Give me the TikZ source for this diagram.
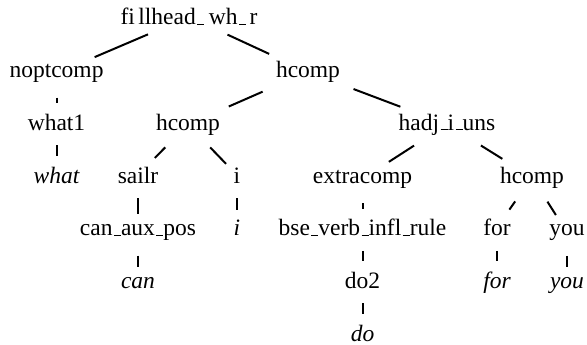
\documentclass[tikz,border=0pt]{standalone}
\usepackage{fontspec}
\setmainfont{Liberation Serif}
\newfontfamily\treefont{Liberation Serif}
\newcommand\uscore{\leavevmode\kern.06em\vbox{\hrule width.3em height 1pt}}
\begin{document}
\begin{tikzpicture}[x=1pt,y=-1pt,
  tn/.style={anchor=base, inner xsep=4pt, inner ysep=5pt, font=\treefont\fontsize{23.5}{28}\selectfont},
  lf/.style={tn, font=\treefont\fontsize{23.5}{28}\selectfont\itshape},
  edge/.style={line width=2pt, shorten <=10pt, shorten >=5pt}]
\useasboundingbox (0,0) rectangle (587,345);
% row 1
\node[tn] (fh) at (189,25) {fi\hspace{.15em}llhead\uscore\hspace{.2em}wh\uscore\hspace{.15em}r};
% row 2
\node[tn] (nopt) at (56.5,77.5) {noptcomp};
\node[tn] (hcA) at (308,77.5) {hcomp};
% row 3
\node[tn] (what1) at (56.5,130) {what1};
\node[tn] (hcB) at (188,130) {hcomp};
\node[tn] (hadj) at (447,130) {hadj\uscore i\uscore uns};
% row 4
\node[lf] (what) at (56.5,183) {what};
\node[tn] (sailr) at (138,183) {sailr};
\node[tn] (iA) at (237,183) {i};
\node[tn] (extra) at (362.5,183) {extracomp};
\node[tn] (hcC) at (532,183) {hcomp};
% row 5
\node[tn] (canaux) at (138,235.5) {can\uscore aux\uscore pos};
\node[lf] (iB) at (237,235.5) {i};
\node[tn] (bse) at (362.5,235.5) {bse\uscore verb\uscore infl\uscore rule};
\node[tn] (forA) at (497,235.5) {for};
\node[tn] (youA) at (567,235.5) {you};
% row 6
\node[lf] (can) at (138,288) {can};
\node[tn] (do2) at (362.5,288) {do2};
\node[lf] (forB) at (497,288) {for};
\node[lf] (youB) at (567,288) {you};
% row 7
\node[lf] (do) at (362.5,341) {do};
% edges
\draw[edge] (fh) -- (nopt);
\draw[edge] (fh) -- (hcA);
\draw[edge] (nopt) -- (what1);
\draw[edge] (what1) -- (what);
\draw[edge] (hcA) -- (hcB);
\draw[edge] (hcA) -- (hadj);
\draw[edge] (hcB) -- (sailr);
\draw[edge] (hcB) -- (iA);
\draw[edge] (sailr) -- (canaux);
\draw[edge] (canaux) -- (can);
\draw[edge] (iA) -- (iB);
\draw[edge] (hadj) -- (extra);
\draw[edge] (hadj) -- (hcC);
\draw[edge] (extra) -- (bse);
\draw[edge] (bse) -- (do2);
\draw[edge] (do2) -- (do);
\draw[edge] (hcC) -- (forA);
\draw[edge] (hcC) -- (youA);
\draw[edge] (forA) -- (forB);
\draw[edge] (youA) -- (youB);
\end{tikzpicture}
\end{document}
